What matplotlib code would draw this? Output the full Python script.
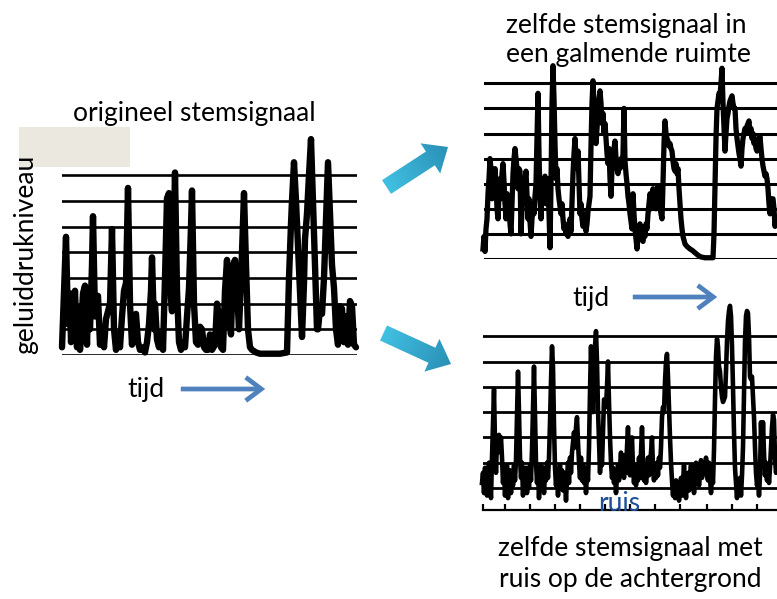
import numpy as np
import matplotlib
matplotlib.use("Agg")
import matplotlib.pyplot as plt
from matplotlib.patches import Polygon, Rectangle, FancyArrowPatch
from matplotlib.colors import LinearSegmentedColormap

plt.rcParams['font.family'] = ['Lato', 'DejaVu Sans']

W, H = 777, 599

# ---------------------------------------------------------------------------
# Sound pressure level traces (time in samples, level in grid steps)
# ---------------------------------------------------------------------------
orig_t = [62, 64, 66, 68, 70, 71, 73, 75, 77, 79, 80, 83, 85, 87, 88, 90, 92, 93,
          95, 97, 98, 100, 102, 104, 106, 108, 110, 111, 112, 114, 116, 118, 120,
          122, 124, 126, 128, 130, 132, 134, 136, 138, 140, 142, 145, 147, 149,
          151, 152, 154, 155, 157, 159, 161, 163, 165, 167, 169, 171, 172, 174,
          175, 177, 179, 181, 183, 185, 187, 189, 191, 192, 194, 196, 198, 200,
          202, 204, 206, 208, 210, 212, 215, 217, 219, 221, 223, 225, 227, 229,
          231, 233, 235, 237, 239, 242, 244, 246, 248, 250, 252, 256, 260, 270,
          280, 287, 289, 291, 292, 294, 296, 298, 300, 302, 304, 305, 307, 309,
          311, 313, 315, 317, 318, 320, 322, 324, 326, 328, 330, 332, 334, 336,
          338, 340, 342, 344, 346, 348, 350, 352, 354, 356]
orig_v = [0.3, 2.5, 4.6, 1.2, 2.4, 0.5, 1.5, 2.5, 0.3, 1.8, 0.2, 2.4, 2.7, 0.4, 2.0,
          1.0, 3.5, 5.4, 1.5, 2.2, 2.3, 0.4, 1.0, 0.3, 1.4, 1.7, 2.0, 3.5, 4.9, 1.0,
          0.2, 0.8, 0.3, 1.5, 2.5, 2.8, 6.5, 2.0, 0.4, 1.5, 1.6, 0.5, 0.2, 0.3, 0.1,
          0.5, 1.2, 2.5, 3.8, 1.0, 2.0, 0.6, 0.3, 0.8, 0.2, 3.0, 6.1, 6.3, 2.2, 1.7,
          5.0, 7.1, 2.5, 0.5, 0.2, 0.5, 0.3, 1.5, 2.6, 5.0, 6.4, 2.0, 0.5, 0.4, 1.1,
          1.0, 0.3, 0.2, 0.2, 0.8, 0.2, 0.4, 2.0, 1.5, 0.3, 0.2, 2.5, 3.7, 1.5, 0.8,
          3.5, 3.7, 2.5, 1.0, 4.0, 6.3, 3.5, 1.0, 0.3, 0.2, 0.1, 0.05, 0.05, 0.05,
          0.1, 3.0, 5.1, 6.0, 7.5, 6.0, 4.2, 2.5, 0.7, 2.8, 4.5, 5.5, 7.0, 8.4, 6.0,
          3.5, 1.0, 1.0, 1.8, 1.6, 3.0, 5.2, 7.5, 5.5, 3.5, 2.6, 1.0, 0.4, 1.9, 1.8,
          0.5, 1.5, 0.4, 2.1, 1.9, 0.4, 0.3]

reverb_t = list(range(483, 684)) + [685, 687, 690, 692, 695, 698, 701, 705, 709,
                                    713] + list(range(714, 778))
reverb_v = [0.4, 0.9, 0.3, 1.2, 1.6, 2.6, 3.2, 4.0, 3.6, 2.4, 3.3, 2.8, 3.6, 3.0,
            2.0, 1.6, 2.6, 3.2, 2.4, 3.4, 3.8, 3.1, 2.2, 1.6, 2.6, 2.0, 2.4, 1.4,
            1.0, 2.2, 3.4, 4.0, 4.4, 4.0, 3.6, 2.8, 3.6, 3.5, 1.0, 2.0, 2.8, 2.4,
            3.2, 3.5, 2.6, 1.6, 2.4, 1.5, 0.9, 1.6, 2.2, 1.8, 2.5, 3.0, 4.8, 6.6,
            4.2, 2.5, 1.6, 2.8, 3.2, 2.6, 3.3, 2.2, 3.0, 3.2, 1.8, 0.45, 3.0, 6.2,
            7.7, 6.4, 4.6, 3.2, 3.6, 2.8, 2.4, 2.1, 1.8, 2.2, 1.6, 1.2, 1.4, 1.0,
            1.3, 0.9, 1.2, 1.6, 1.1, 2.2, 3.4, 4.2, 4.8, 4.0, 3.6, 4.3, 3.0, 1.8,
            2.2, 1.6, 1.3, 1.8, 1.5, 1.1, 1.4, 1.9, 2.2, 2.5, 4.5, 6.2, 7.1, 6.0,
            5.0, 4.6, 5.2, 5.8, 6.4, 6.7, 6.2, 5.4, 5.8, 5.0, 5.4, 4.8, 4.2, 3.8,
            4.4, 3.2, 2.5, 3.6, 4.2, 4.4, 4.7, 4.0, 3.6, 3.4, 3.8, 3.6, 4.0, 3.7,
            4.2, 6.0, 3.9, 3.4, 3.0, 2.5, 2.2, 1.8, 1.5, 1.2, 2.6, 1.8, 1.2, 0.8,
            0.4, 0.9, 1.2, 1.4, 1.0, 0.8, 0.7, 1.2, 0.9, 1.4, 1.2, 1.8, 2.2, 2.6,
            2.0, 2.4, 2.8, 2.3, 2.6, 2.0, 2.2, 2.9, 2.4, 2.1, 1.8, 1.6, 3.0, 4.6,
            5.5, 5.0, 4.8, 4.7, 4.5, 4.6, 4.4, 4.3, 3.9, 3.6, 3.5, 3.8, 3.4, 3.6,
            2.8, 2.2, 1.6, 1.2, 0.9,
            0.6, 0.5, 0.4, 0.35, 0.25, 0.15, 0.08, 0.05, 0.05, 0.05,
            1.0, 2.9, 4.8, 6.0, 6.3, 6.6, 6.5, 7.0, 7.6, 6.2, 5.2, 4.3, 5.0, 5.6,
            5.8, 6.1, 6.3, 6.4, 6.5, 6.2, 6.0, 6.0, 5.2, 4.8, 4.5, 4.2, 4.0, 3.7,
            4.4, 4.8, 5.0, 5.2, 5.0, 5.3, 5.4, 5.5, 5.0, 5.2, 4.8, 5.0, 4.6, 4.8,
            4.4, 4.3, 4.6, 4.8, 4.9, 4.4, 4.0, 3.7, 3.5, 3.3, 3.4, 3.2, 2.8, 2.2,
            1.8, 2.0, 2.4, 2.4, 2.0, 1.3, 1.6, 1.5]

noise_t = list(range(482, 778))
noise_v = [0.2, 0.6, -0.2, 0.8, 0.3, -0.3, 0.5, 1.0, 0.2, -0.4, 1.2, 2.5, 3.9, 1.8,
           0.6, 2.0, 1.4, 2.1, 1.6, 2.0, 1.2, 0.2, 0.8, -0.3, 0.5, 0.9, -0.4, 0.4,
           0.7, -0.2, 0.6, 0.1, 0.9, 0.3, 1.1, 2.8, 4.6, 3.0, 1.2, 0.4, 1.0, -0.3,
           0.6, 0.2, 0.8, -0.2, 0.5, 0.0, 0.9, 0.3, 1.5, 3.2, 4.8, 3.0, 1.0, 0.2,
           0.7, -0.4, 0.5, 0.9, 0.1, 0.8, -0.2, 0.6, 0.3, 1.0, 0.4, 1.2, 2.6, 4.2,
           5.6, 4.8, 2.5, 0.8, 0.1, 0.6, -0.3, 0.5, 0.9, 0.2, 0.7, -0.1, 0.6, 0.3,
           -0.5, 0.4, 1.0, 0.2, 1.2, 0.6, 1.4, 1.8, 2.2, 1.6, 2.4, 2.8, 1.8, 1.0,
           0.4, 1.2, 0.3, 0.9, 0.2, 0.8, -0.2, 0.6, 0.3, 1.6, 3.8, 5.6, 4.2, 3.0,
           4.8, 5.6, 6.2, 5.0, 3.1, 1.8, 0.6, 1.4, 0.9, 2.2, 3.5, 3.5, 3.2, 4.0,
           5.0, 3.4, 2.0, 1.0, 0.4, 0.8, 0.2, 0.7, -0.2, 0.5, 0.9, 0.3, 0.8, 1.4,
           0.5, 1.0, 0.4, 1.3, 0.6, 1.6, 2.4, 1.0, 0.5, 1.6, 2.0, 0.8, 0.2, 0.7,
           0.1, 0.9, 0.3, 1.2, 0.4, 1.4, 2.4, 1.0, 0.3, 0.9, 0.2, 0.6, 1.2, 0.5,
           1.0, 1.4, 2.0, 0.8, 0.3, 0.9, 0.4, 1.0, 0.5, 1.2, 0.8, 1.6, 2.8, 3.2,
           3.0, 4.2, 5.0, 5.3, 4.4, 3.2, 2.0, 1.0, 0.3, -0.3, 0.2, -0.4, 0.3, -0.2,
           0.1, -0.5, 0.0, 0.4, -0.3, 0.2, 0.9, 0.1, -0.4, 0.3, 0.6, -0.1, 0.5,
           0.9, 0.2, 0.7, -0.2, 0.4, 1.0, 0.3, 0.8, 0.1, 0.6, 1.1, 0.4, 0.8, 1.0,
           0.6, 1.2, 0.5, 0.3, 1.0, 0.4, -0.2, 0.5, 0.2, 1.5, 3.5, 5.2, 5.9, 5.6,
           4.8, 4.6, 4.0, 3.6, 3.4, 3.5, 3.6, 4.6, 5.8, 6.6, 7.0, 7.2, 6.8, 5.6,
           4.0, 2.2, 0.8, 0.2, -0.4, 0.3, 0.0, 0.4, -0.3, 0.5, 1.6, 3.6, 5.8, 6.8,
           7.0, 6.9, 6.0, 4.4, 4.3, 4.4, 3.6, 2.8, 1.6, 0.6, 0.1, 0.4, -0.3, 0.5,
           2.6, 1.2, 2.6, 1.4, 0.5, 1.0, 0.3, 0.9, 0.2, 0.8, 1.6, 2.4, 2.9, 2.7,
           1.2, 0.6, 0.9]

time_ticks = [483, 505, 530, 555, 580, 605, 630, 655, 680, 707, 732, 757]

# ---------------------------------------------------------------------------
fig = plt.figure(figsize=(W / 100, H / 100), dpi=100)


def panel(x0, x1, base, step, lo, hi, levels, grid_lw):
    """Axes whose level 0 sits at pixel row `base`, one level = `step` px."""
    ax = fig.add_axes([x0 / W, 1 - (base - lo * step) / H,
                       (x1 - x0) / W, (hi - lo) * step / H])
    ax.set_xlim(x0, x1)
    ax.set_ylim(lo, hi)
    ax.patch.set_alpha(0)
    for s in ax.spines.values():
        s.set_visible(False)
    ax.set_xticks([])
    ax.set_yticks([])
    for lev in levels:
        ax.axhline(lev, color='black', lw=grid_lw, zorder=1)
    return ax


ax1 = panel(62, 357, 355, 25.7, 0, 9, range(8), 1.9)
ax1.plot(orig_t, orig_v, color='black', lw=4.6, solid_joinstyle='round',
         solid_capstyle='round', clip_on=False, zorder=2)

ax2 = panel(484, 777, 259, 25.1, 0, 8.4, range(8), 2.2)
ax2.plot(reverb_t, reverb_v, color='black', lw=3.8, solid_joinstyle='round',
         clip_on=False, zorder=2)

ax3 = panel(483, 777, 488, 25.3, -0.87, 7.5, range(7), 2.0)
ax3.plot(noise_t, noise_v, color='black', lw=3.3, solid_joinstyle='round',
         clip_on=False, zorder=2)
ax3.spines['bottom'].set_visible(True)
ax3.spines['bottom'].set_linewidth(1.6)
ax3.set_xticks(time_ticks)
ax3.tick_params(axis='x', direction='in', length=4, width=1.6,
                labelbottom=False)

# ---------------------------------------------------------------------------
# Labels, arrows and captions on a pixel-space overlay
deco = fig.add_axes([0, 0, 1, 1])
deco.set_xlim(0, W)
deco.set_ylim(H, 0)
deco.axis('off')

deco.add_patch(Rectangle((19, 127), 111, 40, facecolor='#EBE8E0',
                         edgecolor='none', zorder=1))

fs = 19
deco.text(194, 121, 'origineel stemsignaal', fontsize=fs, ha='center',
          va='baseline', zorder=3)
deco.text(26, 254, 'geluiddrukniveau', fontsize=fs, rotation=90,
          ha='center', va='center', zorder=3)
deco.text(506, 33, 'zelfde stemsignaal in', fontsize=fs, ha='left',
          va='baseline', zorder=3)
deco.text(506, 62, 'een galmende ruimte', fontsize=fs, ha='left',
          va='baseline', zorder=3)
deco.text(630, 556, 'zelfde stemsignaal met', fontsize=fs, ha='center',
          va='baseline', zorder=3)
deco.text(630, 587, 'ruis op de achtergrond', fontsize=fs, ha='center',
          va='baseline', zorder=3)
deco.text(127, 397, 'tijd', fontsize=fs, ha='left', va='baseline', zorder=3)
deco.text(572, 306, 'tijd', fontsize=fs, ha='left', va='baseline', zorder=3)
deco.text(598, 511, 'ruis', fontsize=fs, ha='left', va='baseline',
          color='#1F4E9A', zorder=3)

time_blue = '#4F81BD'
for a, b in [((178, 389), (268, 389)), ((630, 297), (720, 297))]:
    deco.add_patch(FancyArrowPatch(a, b, arrowstyle='->,head_length=8,head_width=6',
                                   mutation_scale=1.4, lw=3.4, color=time_blue,
                                   capstyle='butt', joinstyle='miter', zorder=3))

cmap = LinearSegmentedColormap.from_list('teal', ['#41C0E2', '#2A90B6'])


def block_arrow(tail, tip, half_shaft, half_head, head_len):
    tail = np.asarray(tail, float)
    tip = np.asarray(tip, float)
    d = tip - tail
    length = np.hypot(*d)
    u = d / length
    n = np.array([-u[1], u[0]])
    base = tip - u * head_len
    pts = np.array([tail + n * half_shaft, base + n * half_shaft,
                    base + n * half_head, tip, base - n * half_head,
                    base - n * half_shaft, tail - n * half_shaft])
    poly = Polygon(pts, closed=True, facecolor='none', edgecolor='none')
    deco.add_patch(poly)
    xmin, ymin = pts.min(axis=0) - 1
    xmax, ymax = pts.max(axis=0) + 1
    gx, gy = np.meshgrid(np.linspace(xmin, xmax, 120),
                         np.linspace(ymin, ymax, 120))
    g = ((gx - tail[0]) * u[0] + (gy - tail[1]) * u[1]) / length
    im = deco.imshow(np.clip(g, 0, 1), cmap=cmap, extent=(xmin, xmax, ymax, ymin),
                     origin='upper', aspect='auto', interpolation='bilinear',
                     zorder=2)
    im.set_clip_path(poly)


block_arrow((386.5, 187), (448, 147), 8.2, 18, 21)
block_arrow((383.5, 333), (451, 364), 8.3, 18, 21)

deco.set_xlim(0, W)
deco.set_ylim(H, 0)

fig.savefig('out.png', dpi=100)
